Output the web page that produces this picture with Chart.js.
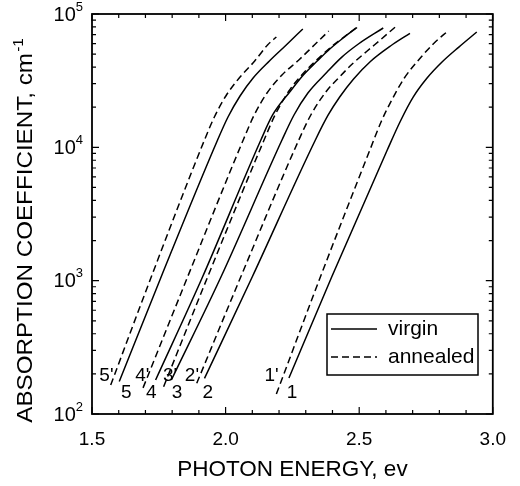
<!DOCTYPE html>
<html>
<head>
<meta charset="utf-8">
<script src="https://cdn.jsdelivr.net/npm/chart.js@4.4.1/dist/chart.umd.min.js"></script>
<style>
  html, body { margin: 0; padding: 0; background: #fff; }
  canvas { display: block; }
</style>
</head>
<body>
<canvas id="absChart" width="520" height="486"></canvas>
<script>
// photon energy (eV) / absorption coefficient (cm-1)
const virgin1E = [2.237, 2.397, 2.605, 2.654, 2.702, 2.754, 2.810, 2.873, 2.940];
const virgin1A = [186, 1065, 9550, 15700, 23800, 33100, 43650, 56500, 73300];
const annealed1E = [2.190, 2.355, 2.540, 2.583, 2.622, 2.669, 2.732, 2.777, 2.832];
const annealed1A = [141, 1070, 9550, 15700, 22650, 33100, 47600, 59600, 74600];

const virgin2E = [1.921, 2.100, 2.336, 2.384, 2.427, 2.479, 2.542, 2.617, 2.690];
const virgin2A = [185, 1070, 11350, 17480, 23850, 32540, 44040, 57540, 71680];
const annealed2E = [1.892, 2.057, 2.274, 2.319, 2.378, 2.419, 2.474, 2.530, 2.583, 2.635];
const annealed2A = [170, 1070, 11350, 17480, 26460, 32540, 42170, 52800, 64940, 79900];

const virgin3E = [1.797, 1.983, 2.211, 2.256, 2.308, 2.379, 2.434, 2.497, 2.590];
const virgin3A = [180, 1070, 11350, 17480, 25560, 36540, 47320, 59570, 78520];
const annealed3E = [1.768, 1.933, 2.144, 2.185, 2.237, 2.285, 2.337, 2.386, 2.438, 2.490];
const annealed3A = [160, 1070, 11350, 17480, 26460, 34860, 44410, 54640, 66070, 79180];

const virgin4E = [1.738, 1.914, 2.132, 2.176, 2.243, 2.291, 2.343, 2.390, 2.440, 2.492];
const virgin4A = [180, 1070, 11350, 17480, 26460, 34860, 44410, 54640, 66070, 79180];
const annealed4E = [1.691, 1.858, 2.066, 2.107, 2.155, 2.211, 2.274, 2.332, 2.386];
const annealed4A = [157, 1070, 11350, 17480, 25560, 34860, 45190, 58550, 74560];

const virgin5E = [1.602, 1.759, 1.970, 2.009, 2.054, 2.103, 2.164, 2.227, 2.289];
const virgin5A = [175, 1070, 11350, 16890, 24270, 33110, 44410, 58550, 77200];
const annealed5E = [1.570, 1.722, 1.921, 1.958, 2.001, 2.051, 2.109, 2.157, 2.190];
const annealed5A = [165, 1070, 11350, 16890, 24270, 33110, 44410, 58550, 67240];

// curve numbers written next to the lower ends
const curveLabels = ["5'", "5", "4'", "4", "3'", "3", "2'", "2", "1'", "1"];
const labelE = [1.554, 1.628, 1.688, 1.722, 1.792, 1.818, 1.874, 1.933, 2.172, 2.249];
const labelA = [195, 145, 195, 145, 195, 145, 195, 145, 195, 145];

const legendLabels = ["virgin", "annealed"];
const yTickExps = [2, 3, 4, 5];

const FONT = '"Liberation Sans", Arial, Helvetica, sans-serif';
const DASH = [7, 4];

function pts(es, as) {
  return es.map((e, i) => ({ x: e, y: as[i] }));
}

function curve(es, as, dashed) {
  return {
    data: pts(es, as),
    borderColor: "#000",
    borderWidth: 1.5,
    borderDash: dashed ? DASH : [],
    pointRadius: 0,
    fill: false,
    cubicInterpolationMode: "monotone",
  };
}

const decor = {
  id: "decor",
  afterDraw(chart) {
    const { ctx, chartArea: a } = chart;
    const x = chart.scales.x, y = chart.scales.y;
    ctx.save();
    ctx.strokeStyle = "#000";
    ctx.fillStyle = "#000";

    // frame
    ctx.lineWidth = 1.8;
    ctx.strokeRect(a.left, a.top, a.right - a.left, a.bottom - a.top);

    // inward ticks on all four sides
    ctx.lineWidth = 1.2;
    ctx.beginPath();
    const nx = Math.round((x.max - x.min) / 0.1);
    for (let i = 0; i <= nx; i++) {
      const px = x.getPixelForValue(x.min + i * 0.1);
      const len = i % 5 === 0 ? 7 : 4;
      ctx.moveTo(px, a.bottom); ctx.lineTo(px, a.bottom - len);
      ctx.moveTo(px, a.top); ctx.lineTo(px, a.top + len);
    }
    yTickExps.forEach((e) => {
      for (let m = 1; m <= 9; m++) {
        const v = m * Math.pow(10, e);
        if (v > y.max) break;
        const py = y.getPixelForValue(v);
        const len = m === 1 ? 7 : 4;
        ctx.moveTo(a.left, py); ctx.lineTo(a.left + len, py);
        ctx.moveTo(a.right, py); ctx.lineTo(a.right - len, py);
      }
    });
    ctx.stroke();

    // y tick labels 10^n
    ctx.textBaseline = "middle";
    yTickExps.forEach((e) => {
      const py = y.getPixelForValue(Math.pow(10, e));
      ctx.font = "13px " + FONT;
      const sw = ctx.measureText(String(e)).width;
      ctx.textAlign = "left";
      ctx.fillText(String(e), a.left - 9 - sw, py - 7);
      ctx.font = "20px " + FONT;
      ctx.textAlign = "right";
      ctx.fillText("10", a.left - 9 - sw, py + 1);
    });

    // curve numbers
    ctx.font = "19px " + FONT;
    ctx.textAlign = "center";
    curveLabels.forEach((t, i) => {
      ctx.fillText(t, x.getPixelForValue(labelE[i]), y.getPixelForValue(labelA[i]));
    });

    // legend
    const lx = a.left + 235, ly = a.top + 300;
    ctx.lineWidth = 1.5;
    ctx.strokeRect(lx, ly, 151, 61);
    ctx.font = "21px " + FONT;
    ctx.textAlign = "left";
    legendLabels.forEach((t, i) => {
      const yy = ly + 15 + i * 28;
      ctx.setLineDash(i === 0 ? [] : DASH);
      ctx.beginPath();
      ctx.moveTo(lx + 4, yy); ctx.lineTo(lx + 50, yy);
      ctx.stroke();
      ctx.fillText(t, lx + 61, yy);
    });
    ctx.setLineDash([]);

    // y axis title with superscript, a little wider than plain Arial
    ctx.translate(32, (a.top + a.bottom) / 2 + 17);
    ctx.rotate(-Math.PI / 2);
    ctx.scale(1.1, 1);
    const main = "ABSORPTION COEFFICIENT, cm";
    ctx.font = "22px " + FONT;
    const mw = ctx.measureText(main).width;
    ctx.font = "14px " + FONT;
    const sw2 = ctx.measureText("-1").width;
    const start = -(mw + sw2) / 2;
    ctx.textAlign = "left";
    ctx.textBaseline = "alphabetic";
    ctx.font = "22px " + FONT;
    ctx.fillText(main, start, 0);
    ctx.font = "14px " + FONT;
    ctx.fillText("-1", start + mw + 1, -9);
    ctx.restore();
  },
};

new Chart(document.getElementById("absChart").getContext("2d"), {
  type: "line",
  data: {
    datasets: [
      curve(virgin1E, virgin1A, false),
      curve(annealed1E, annealed1A, true),
      curve(virgin2E, virgin2A, false),
      curve(annealed2E, annealed2A, true),
      curve(virgin3E, virgin3A, false),
      curve(annealed3E, annealed3A, true),
      curve(virgin4E, virgin4A, false),
      curve(annealed4E, annealed4A, true),
      curve(virgin5E, virgin5A, false),
      curve(annealed5E, annealed5A, true),
    ],
  },
  options: {
    responsive: false,
    animation: false,
    devicePixelRatio: 1,
    layout: { padding: { top: 14, right: 25, bottom: 0, left: 0 } },
    plugins: { legend: { display: false }, tooltip: { enabled: false } },
    scales: {
      x: {
        type: "linear",
        min: 1.5,
        max: 3.0,
        grid: { display: false, drawTicks: false },
        border: { display: false },
        ticks: {
          stepSize: 0.5,
          padding: 14,
          color: "#000",
          font: { family: FONT, size: 19 },
          maxRotation: 0,
          autoSkip: false,
          callback: (v) => Number(v).toFixed(1),
        },
        title: {
          display: true,
          text: "PHOTON ENERGY, ev",
          color: "#000",
          font: { family: FONT, size: 22.5 },
          padding: { top: 0, bottom: 3 },
        },
        afterFit: (s) => { s.height = 72; },
      },
      y: {
        type: "logarithmic",
        min: 100,
        max: 100000,
        grid: { display: false },
        border: { display: false },
        ticks: { display: false },
        afterFit: (s) => { s.width = 92; },
      },
    },
  },
  plugins: [decor],
});
</script>
</body>
</html>
